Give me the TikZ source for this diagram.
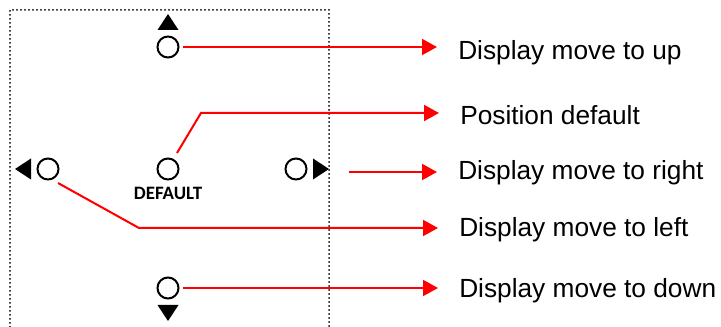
\documentclass[tikz,border=0pt]{standalone}
\usepackage{fontspec}
\setmainfont{Liberation Sans}
\newfontfamily\knobfont{Carlito}
\usetikzlibrary{arrows.meta, positioning}
\tikzset{%
	knob/.style={
		circle,
		draw,
		line width=1.5pt,
		minimum size=15.75pt,
		inner sep=0pt
	},
	red line/.style={draw=red, line width=1.5pt},
	red arrow/.style={
		red line,
		-{Triangle[length=11.25pt, width=12pt]},
		shorten >=15.75pt
	},
	move label/.style={anchor=base west, inner sep=0pt, font=\fontsize{19.7}{23}\selectfont},
	dotted frame/.style={line width=1.5pt, dash pattern=on 0pt off 3pt, line cap=round},
}

\begin{document}
\begin{tikzpicture}[x=0.75pt, y=-0.75pt]
			\useasboundingbox (0,0) rectangle (721,327);
			\draw[dotted frame] (10,327) -- (10,10) -- (329,10) -- (329,327);
			
			\node[knob] (kup) at (168,47) {};
			\node[knob] (kdef) at (168,169) {};
			\node[knob] (kleft) at (48,169) {};
			\node[knob] (kright) at (296,169) {};
			\node[knob] (kdown) at (168,288) {};
			\node[below=5pt of kdef, inner sep=0pt, font=\knobfont\bfseries\fontsize{14.2}{16}\selectfont] (kdeflabel) {DEFAULT};
			
			\fill (kup) ++(-10.5,-17) -- ++(21,0) -- ++(-10.5,-16) -- cycle;
			\fill (kdown) ++(-10.5,17) -- ++(21,0) -- ++(-10.5,16) -- cycle;
			\fill (kleft) ++(-17,-10.5) -- ++(0,21) -- ++(-16,-10.5) -- cycle;
			\fill (kright) ++(17,-10.5) -- ++(0,21) -- ++(16,-10.5) -- cycle;
			
			\node[move label] (lup) at (458,60) {Display move to up};
			\node[move label] (ldef) at (460,125) {Position default};
			\node[move label] (lright) at (458,180) {Display move to right};
			\node[move label] (lleft) at (459,237) {Display move to left};
			\node[move label] (ldown) at (459,298) {Display move to down};
			
			\coordinate (dbend) at ([shift={(33,-56)}]kdef.center);
			\coordinate (lbend) at ([shift={(91,59)}]kleft.center);
			\coordinate (rstart) at ([shift={(53,3)}]kright.center);
			
			\draw[red arrow, shorten <=2.5pt] (kup.east) -- (kup.east -| lup.west);
			\draw[red arrow] ([shift={(9,-16)}]kdef.center) -- (dbend) -- (dbend -| ldef.west);
			\draw[red arrow] (rstart) -- (rstart -| lright.west);
			\draw[red arrow] ([shift={(10,14)}]kleft.center) -- (lbend) -- (lbend -| lleft.west);
			\draw[red arrow, shorten <=2.5pt] (kdown.east) -- (kdown.east -| ldown.west);
			
			
		\end{tikzpicture}
\end{document}
